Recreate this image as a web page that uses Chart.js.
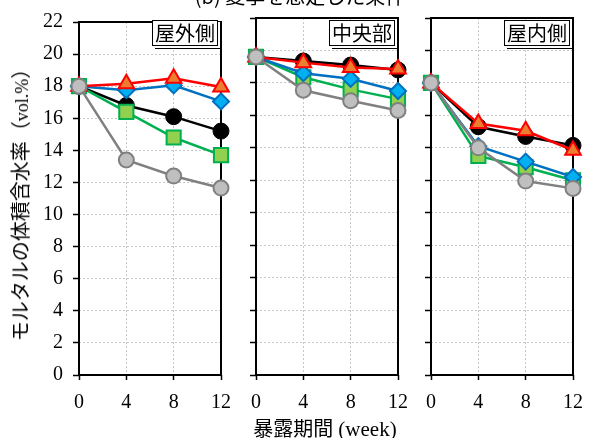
<!DOCTYPE html>
<html>
<head>
<meta charset="utf-8">
<script src="https://cdn.jsdelivr.net/npm/chart.js@4.4.0/dist/chart.umd.min.js"></script>
<style>
body { margin: 0; background: #fff; }
#wrap { position: relative; width: 593px; height: 438px; overflow: hidden; background: #fff; }
canvas { position: absolute; top: 0; }
.cjk { font-family: "Noto Sans CJK JP", sans-serif; }
.serif { font-family: "Liberation Serif", serif; }
#title { position: absolute; left: 0; width: 600px; top: -14px; text-align: center; font-size: 20px; line-height: 20px; white-space: nowrap; }
#ytitle { position: absolute; left: 21px; top: 200px; transform: translate(-50%, -50%) rotate(-90deg); white-space: nowrap; font-size: 20px; line-height: 20px; }
#xtitle { position: absolute; left: 325px; top: 428px; transform: translate(-50%, -50%); white-space: nowrap; font-size: 20px; line-height: 20px; }
.panel { position: absolute; top: 20px; height: 24px; padding: 0 2px; border: 1px solid #000; background: #fff;
         font-size: 20px; line-height: 24px; box-shadow: 2px 2px 0 #fff, 3px 3px 0 #000; }
</style>
</head>
<body>
<div id="wrap">
  <canvas id="c1" width="245" height="438" style="left:0px"></canvas>
  <canvas id="c2" width="184" height="438" style="left:238px"></canvas>
  <canvas id="c3" width="184" height="438" style="left:413px"></canvas>
  <div id="title" class="cjk">(b) 夏季を想定した条件</div>
  <div id="ytitle"><span class="cjk">モルタルの体積含水率（</span><span class="serif" style="font-size:18px">vol.%</span><span class="cjk">）</span></div>
  <div id="xtitle"><span class="cjk">暴露期間</span> <span class="serif" style="font-size:21px">(week)</span></div>
  <div class="panel cjk" id="p1" style="left:152px">屋外側</div>
  <div class="panel cjk" id="p2" style="left:329px">中央部</div>
  <div class="panel cjk" id="p3" style="left:504px">屋内側</div>
</div>
<script>
const weeks = [0, 4, 8, 12];
const yTicks = [0, 2, 4, 6, 8, 10, 12, 14, 16, 18, 20, 22];
const panelNames = ["屋外側", "中央部", "屋内側"];

// 屋外側
const outBlack = [18.0, 16.8, 16.1, 15.2];
const outRed = [18.0, 18.15, 18.5, 17.95];
const outBlue = [18.0, 17.75, 18.05, 17.05];
const outGreen = [18.0, 16.4, 14.8, 13.7];
const outGray = [18.0, 13.4, 12.4, 11.65];

// 中央部
const midBlack = [19.6, 19.35, 19.1, 18.8];
const midRed = [19.6, 19.25, 18.95, 18.85];
const midBlue = [19.6, 18.6, 18.25, 17.5];
const midGreen = [19.6, 18.35, 17.6, 17.0];
const midGray = [19.6, 17.55, 16.9, 16.3];

// 屋内側
const inBlack = [18.0, 15.3, 14.7, 14.15];
const inRed = [18.0, 15.5, 15.05, 13.85];
const inBlue = [18.0, 14.1, 13.15, 12.2];
const inGreen = [18.0, 13.5, 12.8, 12.0];
const inGray = [18.0, 14.0, 11.95, 11.5];

const styles = {
    black: { line: "#000000", fill: "#000000", shape: "circle", r: 8, bw: 1, order: 5 },
    green: { line: "#00b050", fill: "#92d050", shape: "rect", r: 10, bw: 2, order: 4 },
    blue: { line: "#0070c0", fill: "#00b0f0", shape: "rectRot", r: 8, bw: 2, order: 3 },
    red: { line: "#ff0000", fill: "#ed7d31", shape: "triangle", r: 9, bw: 2, order: 2 },
    gray: { line: "#808080", fill: "#bfbfbf", shape: "circle", r: 7.5, bw: 2, order: 1 }
};

function makeDataset(values, style) {
    return {
        data: weeks.map((w, i) => ({ x: w, y: values[i] })),
        borderColor: style.line,
        backgroundColor: style.fill,
        borderWidth: 2.5,
        pointStyle: style.shape,
        pointRadius: style.r,
        pointBorderWidth: style.bw,
        pointBackgroundColor: style.fill,
        pointBorderColor: style.line,
        order: style.order,
        clip: false
    };
}

const framePlugin = {
    id: "frame",
    beforeDatasetsDraw(chart) {
        const a = chart.chartArea;
        const ctx = chart.ctx;
        ctx.save();
        ctx.strokeStyle = "#000";
        ctx.lineWidth = 2;
        ctx.strokeRect(a.left, a.top, a.right - a.left, a.bottom - a.top);
        ctx.restore();
    }
};

function makeChart(id, sets, yWidth, showY) {
    const ctx = document.getElementById(id).getContext("2d");
    return new Chart(ctx, {
        type: "line",
        data: {
            datasets: [
                makeDataset(sets[0], styles.black),
                makeDataset(sets[1], styles.red),
                makeDataset(sets[2], styles.blue),
                makeDataset(sets[3], styles.green),
                makeDataset(sets[4], styles.gray)
            ]
        },
        options: {
            responsive: false,
            animation: false,
            layout: { padding: { top: 18, right: 24, left: 0, bottom: 0 } },
            plugins: { legend: { display: false }, tooltip: { enabled: false } },
            scales: {
                x: {
                    type: "linear",
                    min: weeks[0],
                    max: weeks[weeks.length - 1],
                    afterBuildTicks: scale => { scale.ticks = weeks.map(v => ({ value: v })); },
                    afterFit: scale => { scale.height = 63; },
                    grid: { color: "#c8c8c8", lineWidth: 1, tickLength: 5, tickColor: "#000", tickWidth: 1.5, tickBorderDash: [] },
                    border: { display: false, dash: [2, 2] },
                    ticks: { color: "#000", padding: 11, font: { family: "Liberation Serif", size: 20 } }
                },
                y: {
                    min: yTicks[0],
                    max: yTicks[yTicks.length - 1],
                    afterBuildTicks: scale => { scale.ticks = yTicks.map(v => ({ value: v })); },
                    afterFit: scale => { scale.width = yWidth; },
                    grid: { color: "#c8c8c8", lineWidth: 1, tickLength: 6, tickColor: "#000", tickWidth: 1.5, tickBorderDash: [] },
                    border: { display: false, dash: [2, 2] },
                    ticks: { display: showY, color: "#000", padding: 10, font: { family: "Liberation Serif", size: 20 } }
                }
            }
        },
        plugins: [framePlugin]
    });
}

makeChart("c1", [outBlack, outRed, outBlue, outGreen, outGray], 79, true);
makeChart("c2", [midBlack, midRed, midBlue, midGreen, midGray], 18, false);
makeChart("c3", [inBlack, inRed, inBlue, inGreen, inGray], 18, false);
</script>
</body>
</html>
